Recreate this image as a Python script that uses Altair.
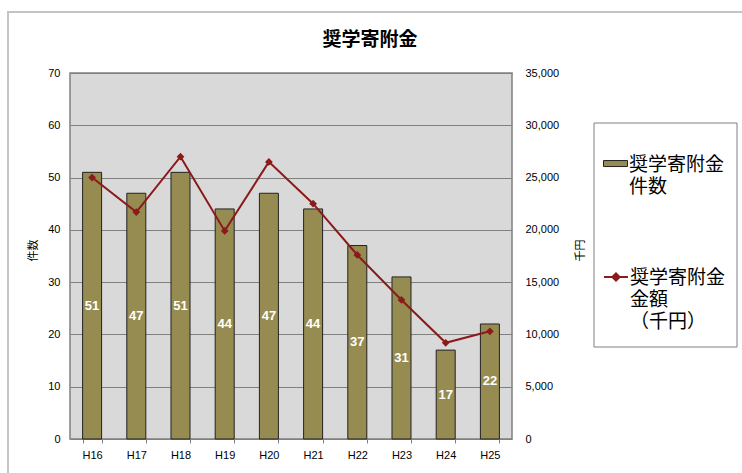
import altair as alt
import pandas as pd

years = ["H16", "H17", "H18", "H19", "H20", "H21", "H22", "H23", "H24", "H25"]
counts = [51, 47, 51, 44, 47, 44, 37, 31, 17, 22]
amounts = [25000, 21700, 27000, 19900, 26500, 22500, 17600, 13300, 9200, 10300]
left_ticks = [0, 10, 20, 30, 40, 50, 60, 70]
right_ticks = [0, 5000, 10000, 15000, 20000, 25000, 30000, 35000]
count_label = "奨学寄附金\n件数"
amount_label = "奨学寄附金\n金額\n（千円）"
title_text = "奨学寄附金"

df = pd.DataFrame({"year": years, "count": counts, "amount": amounts})
df["s1"] = count_label
df["s2"] = amount_label

FONT = "Liberation Sans"
CJK = "Noto Sans CJK JP"
BAR = "#968C52"
RED = "#8B1A1A"

xenc = alt.X(
    "year:N", sort=years,
    scale=alt.Scale(paddingInner=0.57, paddingOuter=0.285),
    axis=alt.Axis(title=None, labelAngle=0, labelFont=FONT, labelFontSize=11,
                  labelColor="#000", labelPadding=6, tickBand="extent",
                  ticks=True, tickSize=4, tickColor="#808080", domain=False,
                  grid=False),
)

left_axis = alt.Axis(values=left_ticks, title="件数", titleFont=CJK,
                     titleFontSize=11, titleFontWeight="normal",
                     titleColor="#000", titleAngle=-90,
                     titleBaseline="middle", titleX=-37, titleY=177,
                     labelFont=FONT, labelFontSize=11, labelColor="#000",
                     labelPadding=10, ticks=False, domain=False,
                     grid=True, gridColor="#808080", gridWidth=1)

right_axis = alt.Axis(orient="right", values=right_ticks, format=",.0f",
                      title="千円", titleFont=CJK, titleFontSize=11,
                      titleFontWeight="normal", titleColor="#000",
                      titleAngle=-90, titleBaseline="middle", titleX=68,
                      titleY=177, labelFont=FONT, labelFontSize=11,
                      labelColor="#000", labelPadding=13, ticks=False,
                      domain=False, grid=False)

bars = alt.Chart(df).mark_bar(stroke="#222", strokeWidth=1).encode(
    x=xenc,
    y=alt.Y("count:Q", scale=alt.Scale(domain=[0, 70]), axis=left_axis),
    fill=alt.Fill("s1:N", scale=alt.Scale(domain=[count_label], range=[BAR]),
                  legend=alt.Legend(title=None, orient="none", legendX=533,
                                    legendY=85,
                                    labelExpr="split(datum.label, '\\n')",
                                    labelFont=CJK, labelFontSize=19,
                                    labelColor="#000", labelOffset=1,
                                    labelBaseline="alphabetic",
                                    symbolType="M-1,-0.83H1V-0.33H-1Z",
                                    symbolSize=576, symbolStrokeColor="#222",
                                    symbolStrokeWidth=1, padding=0)),
)

labels = alt.Chart(df).transform_calculate(half="datum.count / 2").mark_text(
    color="white", fontWeight="bold", font=FONT, fontSize=13
).encode(
    x=xenc,
    y=alt.Y("half:Q", scale=alt.Scale(domain=[0, 70]), axis=left_axis),
    text="count:Q",
)

line = alt.Chart(df).mark_line(strokeWidth=2).encode(
    x=xenc,
    y=alt.Y("amount:Q", scale=alt.Scale(domain=[0, 35000]), axis=right_axis),
    stroke=alt.Stroke("s2:N", scale=alt.Scale(domain=[amount_label], range=[RED]),
                      legend=alt.Legend(title=None, orient="none", legendX=533,
                                        legendY=198,
                                        labelExpr="split(datum.label, '\\n')",
                                        labelFont=CJK, labelFontSize=19,
                                        labelColor="#000", labelOffset=1,
                                        labelBaseline="alphabetic",
                                        symbolType="M-1,-0.58H1M-0.3,-0.58L0,-0.88L0.3,-0.58L0,-0.28Z",
                                        symbolSize=576, symbolFillColor=RED,
                                        symbolStrokeWidth=2, padding=0)),
)

pts = alt.Chart(df).mark_point(shape="diamond", filled=True, size=60,
                               color=RED, opacity=1).encode(
    x=xenc,
    y=alt.Y("amount:Q", scale=alt.Scale(domain=[0, 35000]), axis=right_axis),
)

box = alt.Chart(alt.Data(values=[{"k": 1}])).mark_rect(
    fill="white", stroke="#808080", strokeWidth=1
).encode(x=alt.value(524), x2=alt.value(667), y=alt.value(50), y2=alt.value(274))

frame = alt.Chart(alt.Data(values=[{"k": 1}])).mark_rect(
    fill="transparent", stroke="#c4c4c4", strokeWidth=2
).encode(x=alt.value(-62), x2=alt.value(720), y=alt.value(-61), y2=alt.value(440))

chart = alt.layer(
    frame,
    box,
    alt.layer(bars, labels),
    alt.layer(line, pts),
).resolve_scale(y="independent").properties(
    width=442, height=366,
    autosize=alt.AutoSizeParams(type="none"),
    padding={"left": 70, "top": 73, "right": 230, "bottom": 34},
    title=alt.Title(title_text, font=CJK, fontSize=19, fontWeight="bold",
                    color="#000", anchor="middle", dx=79, offset=-39),
).configure(
    background="white",
    style={"guide-label": {"lineHeight": 22}},
    view=alt.ViewConfig(fill="#d9d9d9", stroke="#808080", strokeWidth=1.5),
)

chart.save("out.html", embed_options={"renderer": "svg", "actions": False})
